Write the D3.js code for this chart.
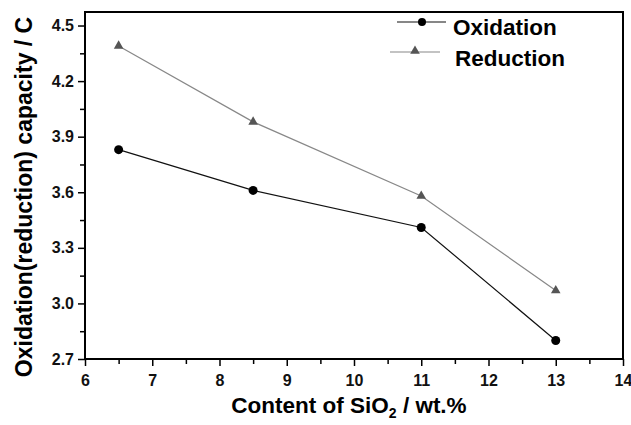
<!DOCTYPE html>
<html>
<head>
<meta charset="utf-8">
<script src="https://cdn.jsdelivr.net/npm/d3@7"></script>
<style>
  body { margin: 0; background: #fff; }
  text { font-family: "Liberation Sans", Arial, sans-serif; font-weight: bold; }
</style>
</head>
<body>
<div id="chart"></div>
<script>
const silica = [6.5, 8.5, 11, 13];
const oxidation = [3.83, 3.61, 3.41, 2.80];
const reduction = [4.39, 3.98, 3.58, 3.07];
const xTicks = [6, 7, 8, 9, 10, 11, 12, 13, 14];
const yTicks = [2.7, 3.0, 3.3, 3.6, 3.9, 4.2, 4.5];

const width = 631, height = 425;
const margin = { top: 12, right: 8, bottom: 66, left: 85 };
const w = width - margin.left - margin.right;
const h = height - margin.top - margin.bottom;

const svg = d3.select('#chart').append('svg')
  .attr('width', width)
  .attr('height', height);

const g = svg.append('g')
  .attr('transform', `translate(${margin.left},${margin.top})`);

const x = d3.scaleLinear().domain([6, 14]).range([0, w]);
const y = d3.scaleLinear().domain([2.7, 4.573]).range([h, 0]);

// minor ticks
g.append('g')
  .attr('transform', `translate(0,${h})`)
  .call(d3.axisBottom(x).tickValues(d3.range(6.5, 14, 1)).tickSize(5).tickFormat(''))
  .call(a => a.select('.domain').remove())
  .selectAll('line').attr('stroke-width', 1.5);

g.append('g')
  .call(d3.axisLeft(y).tickValues(d3.range(2.85, 4.5, 0.3)).tickSize(5).tickFormat(''))
  .call(a => a.select('.domain').remove())
  .selectAll('line').attr('stroke-width', 1.5);

// major ticks
const xAxis = g.append('g')
  .attr('transform', `translate(0,${h})`)
  .call(d3.axisBottom(x).tickValues(xTicks).tickSize(7).tickPadding(9).tickFormat(d3.format('d')));
xAxis.select('.domain').remove();
xAxis.selectAll('line').attr('stroke-width', 1.5);
xAxis.selectAll('text').attr('font-size', 16).attr('fill', '#111');

const yAxis = g.append('g')
  .call(d3.axisLeft(y).tickValues(yTicks).tickSize(7).tickPadding(4).tickFormat(d3.format('.1f')));
yAxis.select('.domain').remove();
yAxis.selectAll('line').attr('stroke-width', 1.5);
yAxis.selectAll('text').attr('font-size', 16).attr('fill', '#111');

// frame
g.append('rect')
  .attr('width', w).attr('height', h)
  .attr('fill', 'none').attr('stroke', '#000').attr('stroke-width', 2);

const line = d3.line().x((d, i) => x(silica[i])).y(d => y(d));

g.append('path').datum(reduction)
  .attr('fill', 'none').attr('stroke', '#888').attr('stroke-width', 1.2)
  .attr('d', line);

g.append('path').datum(oxidation)
  .attr('fill', 'none').attr('stroke', '#111').attr('stroke-width', 1.2)
  .attr('d', line);

const tri = d3.symbol().type(d3.symbolTriangle).size(40);

g.selectAll('.tri').data(reduction).enter().append('path')
  .attr('transform', (d, i) => `translate(${x(silica[i])},${y(d)})`)
  .attr('d', tri).attr('fill', '#555');

g.selectAll('.dot').data(oxidation).enter().append('circle')
  .attr('cx', (d, i) => x(silica[i])).attr('cy', d => y(d))
  .attr('r', 4.5).attr('fill', '#000');

// legend
const legend = svg.append('g');
legend.append('line').attr('x1', 397).attr('x2', 446).attr('y1', 22).attr('y2', 22)
  .attr('stroke', '#111').attr('stroke-width', 1.2);
legend.append('circle').attr('cx', 422).attr('cy', 22).attr('r', 4).attr('fill', '#000');
legend.append('text').attr('x', 453).attr('y', 35).attr('font-size', 22.5).text('Oxidation');

legend.append('line').attr('x1', 390).attr('x2', 440).attr('y1', 52).attr('y2', 52)
  .attr('stroke', '#888').attr('stroke-width', 1.2);
legend.append('path').attr('transform', 'translate(415,51)').attr('d', tri).attr('fill', '#555');
legend.append('text').attr('x', 455).attr('y', 66).attr('font-size', 22.5).text('Reduction');

// axis titles
const xTitle = svg.append('text')
  .attr('x', 349).attr('y', 413)
  .attr('text-anchor', 'middle').attr('font-size', 22.5);
xTitle.append('tspan').text('Content of SiO');
xTitle.append('tspan').attr('font-size', 14).attr('dy', 5).text('2');
xTitle.append('tspan').attr('dy', -5).text(' / wt.%');

svg.append('text')
  .attr('transform', 'translate(32,197) rotate(-90)')
  .attr('text-anchor', 'middle').attr('font-size', 23)
  .text('Oxidation(reduction) capacity / C');
</script>
</body>
</html>
